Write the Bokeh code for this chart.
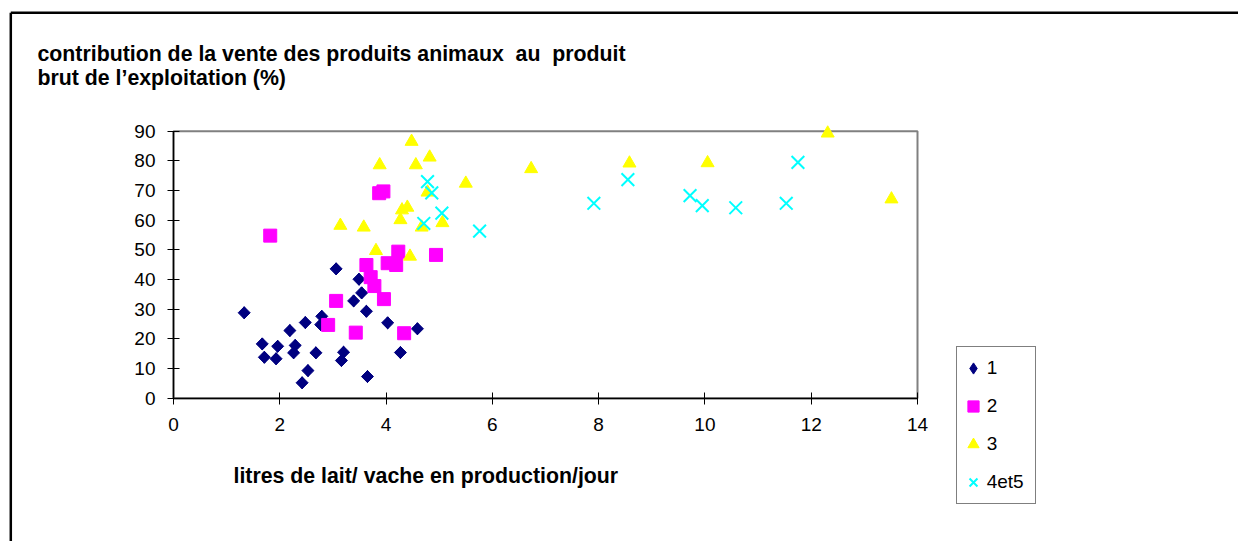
from bokeh.plotting import figure
from bokeh.models import Range1d, Label, Legend, LegendItem, FixedTicker
from bokeh.embed import file_html
from bokeh.resources import INLINE

# ---- data ----
x_ticks = [0, 2, 4, 6, 8, 10, 12, 14]
y_ticks = [0, 10, 20, 30, 40, 50, 60, 70, 80, 90]

s1_x = [1.33, 1.67, 1.71, 1.96, 1.93, 2.19, 2.29, 2.26, 2.48, 2.53, 2.42, 2.68, 2.79,
        2.77, 3.06, 3.20, 3.16, 3.39, 3.49, 3.54, 3.63, 3.65, 4.03, 4.27, 4.59]
s1_y = [28.8, 18.3, 13.8, 17.5, 13.3, 22.8, 17.8, 15.3, 25.5, 9.3, 5.2, 15.3, 27.6,
        24.8, 43.6, 15.5, 12.7, 32.8, 40.1, 35.5, 29.3, 7.3, 25.4, 15.4, 23.4]

s2_x = [1.82, 3.06, 2.91, 3.43, 3.63, 3.71, 3.78, 3.96, 3.87, 3.95, 4.03, 4.23, 4.19, 4.34, 4.94]
s2_y = [54.8, 32.8, 24.7, 22.1, 44.9, 40.8, 37.8, 33.4, 69.1, 69.7, 45.5, 49.4, 44.9, 21.9, 48.3]

s3_x = [3.14, 3.58, 3.88, 3.81, 4.48, 4.56, 4.82, 4.30, 4.40, 4.27, 4.45, 4.78, 4.67,
        5.06, 5.50, 6.73, 8.58, 10.05, 12.31, 13.51]
s3_y = [58.2, 57.6, 78.6, 49.7, 86.5, 78.6, 81.2, 63.4, 64.3, 60.1, 47.8, 69.4, 57.6,
        59.1, 72.4, 77.3, 79.2, 79.3, 89.3, 67.1]

s4_x = [4.78, 4.86, 4.71, 5.05, 5.76, 7.91, 8.55, 9.72, 9.95, 10.58, 11.53, 11.75]
s4_y = [73.0, 69.2, 58.9, 62.4, 56.3, 65.7, 73.7, 68.3, 64.9, 64.2, 65.7, 79.5]

series_names = ["1", "2", "3", "4et5"]

title_lines = ["contribution de la vente des produits animaux\u00a0 au\u00a0 produit",
               "brut de l\u2019exploitation (%)"]
x_title = "litres de lait/ vache en production/jour"

FONT = "Liberation Sans"
NAVY, MAGENTA, YELLOW, CYAN = "#000080", "#FF00FF", "#FFFF00", "#00FFFF"

# ---- layout geometry (canvas pixels) ----
W, H = 1238, 541
PX_X0, PX_X1 = 173.0, 917.0     # pixel of first / last x tick
PX_Y0, PX_Y1 = 397.7, 130.7     # pixel of first / last y tick
xscale = (PX_X1 - PX_X0) / (x_ticks[-1] - x_ticks[0])
yscale = (PX_Y0 - PX_Y1) / (y_ticks[-1] - y_ticks[0])


def dx(px):
    return x_ticks[0] + (px - PX_X0) / xscale


def dy(py):
    return y_ticks[0] + (PX_Y0 - py) / yscale


p = figure(width=W, height=H, output_backend="svg", toolbar_location=None,
           x_range=Range1d(dx(0), dx(W)), y_range=Range1d(dy(H), dy(0)),
           min_border=0, title=None)
p.grid.visible = False
p.background_fill_color = "white"
p.border_fill_color = "white"
p.outline_line_color = None

# outer frame (left and top edges visible)
p.segment(x0=[dx(10.3), dx(10.3)], y0=[dy(12.3), dy(12.3)],
          x1=[dx(W + 5), dx(10.3)], y1=[dy(12.3), dy(H + 5)],
          line_color="black", line_width=2.5)

# plot area border
p.quad(left=x_ticks[0], right=x_ticks[-1], bottom=y_ticks[0], top=y_ticks[-1],
       fill_color=None, line_color="#808080", line_width=2)

for ax, ticks, loc in ((p.xaxis[0], x_ticks, y_ticks[0]), (p.yaxis[0], y_ticks, x_ticks[0])):
    ax.ticker = FixedTicker(ticks=ticks)
    ax.fixed_location = loc
    ax.bounds = (ticks[0], ticks[-1])
    ax.axis_line_color = "black"
    ax.axis_line_width = 1.5
    ax.major_tick_line_color = "black"
    ax.major_tick_line_width = 1
    ax.major_tick_in = 6
    ax.major_tick_out = 6
    ax.minor_tick_line_color = None
    ax.major_label_text_font = FONT
    ax.major_label_text_font_size = "19px"
    ax.major_label_text_color = "black"
p.yaxis[0].major_label_standoff = 12
p.xaxis[0].major_label_standoff = 14

# series 1: an (unrotated) diamond underneath, used as the legend key,
# fully covered by the 45-degree square drawn on top
r1_key = p.scatter(s1_x, s1_y, marker="diamond", size=12,
                   fill_color=NAVY, line_color=NAVY, level="overlay")
r1 = p.scatter(s1_x, s1_y, marker="square", angle=0.785398, size=8.5,
               fill_color=NAVY, line_color=NAVY, level="overlay")
r2 = p.scatter(s2_x, s2_y, marker="square", size=13,
               fill_color=MAGENTA, line_color=MAGENTA, level="overlay")
r3 = p.scatter(s3_x, s3_y, marker="triangle", size=13,
               fill_color=YELLOW, line_color=YELLOW, level="overlay")
r4 = p.scatter(s4_x, s4_y, marker="x", size=18, line_color=CYAN, line_width=2,
               level="overlay")

legend = Legend(items=[LegendItem(label=n, renderers=[r]) for n, r in
                       zip(series_names, [r1_key, r2, r3, r4])],
                location=(955.7, H - 504))
legend.border_line_color = "black"
legend.border_line_width = 1
legend.background_fill_color = "white"
legend.background_fill_alpha = 1
legend.label_text_font = FONT
legend.label_text_font_size = "19px"
legend.label_text_color = "black"
legend.glyph_width = 28
legend.glyph_height = 38
legend.label_height = 38
legend.label_width = 46
legend.spacing = 0
legend.padding = 2
legend.margin = 0
legend.label_standoff = 0
p.add_layout(legend, "center")

for txt, base in zip(title_lines, [53.5, 77.0]):
    p.add_layout(Label(x=dx(37), y=dy(base), text=txt,
                       text_font=FONT, text_font_style="bold",
                       text_font_size="21.3px", text_color="black",
                       text_baseline="alphabetic", text_align="left"))

p.add_layout(Label(x=dx(233), y=dy(475), text=x_title,
                   text_font=FONT, text_font_style="bold",
                   text_font_size="21.3px", text_color="black",
                   text_baseline="alphabetic", text_align="left"))

open("out.html", "w").write(file_html(p, INLINE))
